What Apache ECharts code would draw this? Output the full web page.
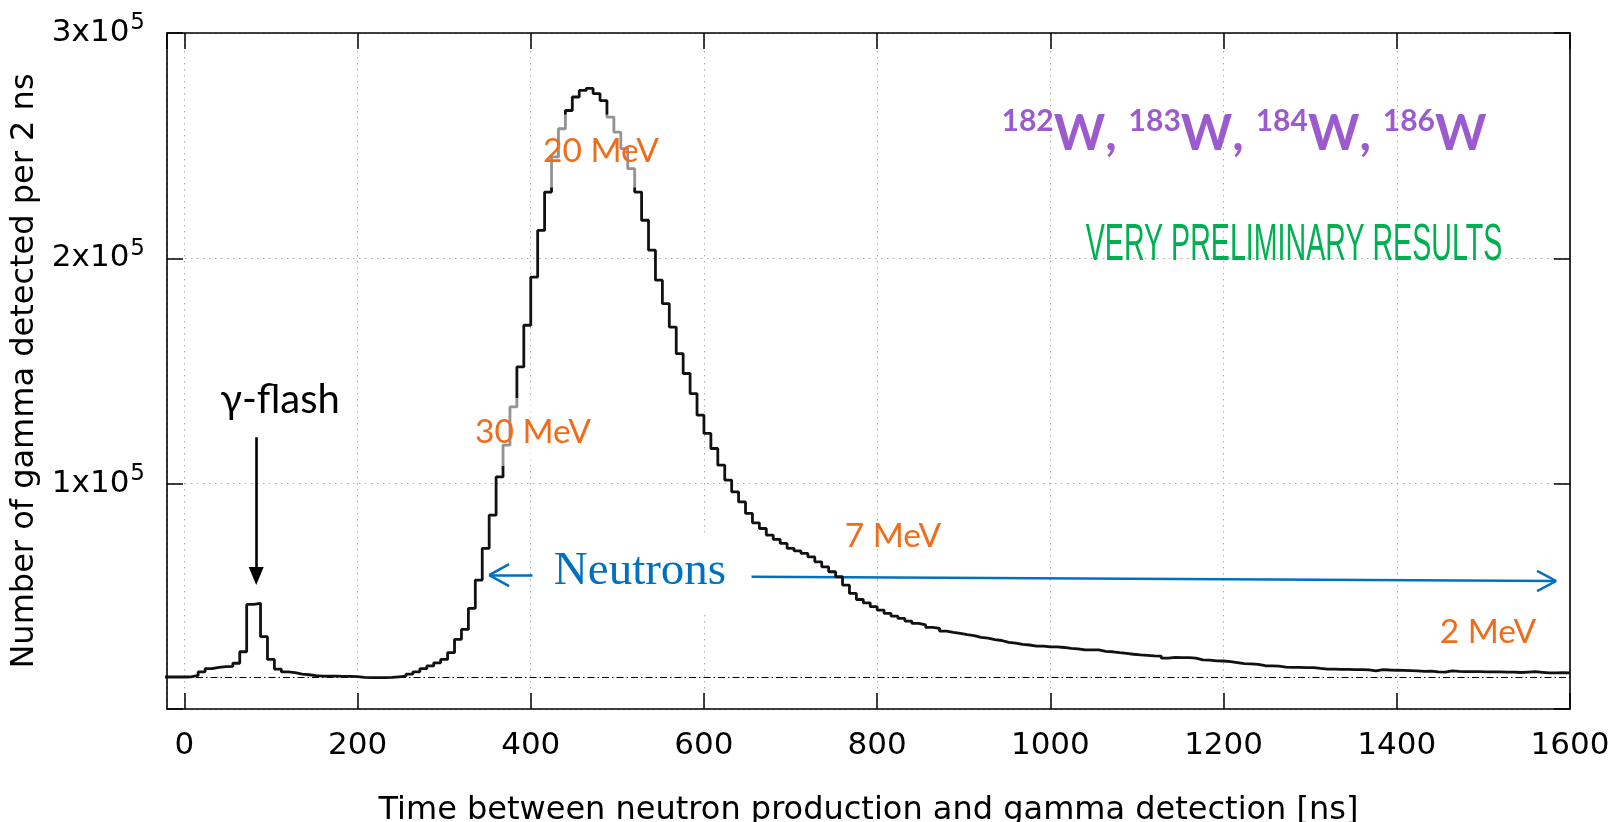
<!DOCTYPE html>
<html>
<head>
<meta charset="utf-8">
<script src="https://cdn.jsdelivr.net/npm/echarts@6/dist/echarts.min.js"></script>
<style>
  html, body { margin: 0; padding: 0; background: #ffffff; }
  #chart { width: 1613px; height: 822px; }
</style>
</head>
<body>
<div id="chart"></div>
<script>
// ---------------- DATA ----------------
// Histogram bins: 8 ns wide, first bin starts at -24 ns (values in thousands of counts)
const binStartNs = -24;
const binWidthNs = 8;
const countsK = [
  14.2, 14.2, 14.2, 14.3, 14.9, 16.5, 17.9, 18.5, 18.8, 18.9,      // -24 .. 48
  20.3, 25.4, 46.4, 46.9, 32.1, 22.0, 17.7, 16.5, 16.1, 15.5,      // 56 .. 128
  15.2, 14.8, 14.6, 14.6, 14.6, 14.5, 14.5, 14.4, 14.0, 13.9,      // 136 .. 208
  13.9, 13.9, 14.0, 14.3, 14.6, 15.5, 16.5, 17.9, 19.1, 20.5,      // 216 .. 288
  22.0, 25.0, 30.9, 35.3, 44.7, 57.2, 71.3, 86.0, 103.0, 117.1,    // 296 .. 368
  134.1, 151.8, 170.3, 191.7, 212.4, 229.4, 245.0, 257.5, 265.6, 271.6, // 376 .. 448
  274.5, 275.4, 273.1, 270.0, 262.7, 256.0, 248.7, 239.8, 229.4, 216.9, // 456 .. 528
  203.6, 190.3, 179.9, 169.5, 157.7, 148.9, 140.0, 130.4, 122.3, 115.6, // 536 .. 608
  108.2, 101.6, 96.4, 91.9, 86.8, 82.6, 80.1, 77.2, 75.3, 73.5,    // 616 .. 688
  71.3, 70.2, 69.1, 67.5, 65.3, 63.1, 60.9, 58.7, 55.0, 51.3,      // 696 .. 768
  48.6, 47.1, 45.4, 43.9, 42.4, 41.2, 40.2, 39.0, 38.0, 37.3,      // 776 .. 848
  36.2, 35.8, 34.6, 34.0, 33.6, 33.0, 32.6, 31.8, 31.5, 30.8,      // 856 .. 928
  30.4, 29.6, 29.2, 28.7, 28.4, 27.9, 27.9, 27.6, 27.6, 27.3,      // 936 .. 1008
  26.9, 26.7, 26.2, 26.2, 26.2, 25.6, 25.4, 25.0, 24.7, 24.3,      // 1016 .. 1088
  24.0, 23.8, 23.6, 23.5, 22.6, 22.9, 22.8, 22.8, 22.6, 21.8,      // 1096 .. 1168
  21.7, 21.4, 21.3, 21.0, 20.6, 20.1, 20.0, 19.8, 19.2, 19.1,      // 1176 .. 1248
  19.0, 18.6, 18.5, 18.5, 18.4, 18.4, 18.0, 17.7, 17.7, 17.6,      // 1256 .. 1328
  17.6, 17.5, 17.5, 17.4, 16.9, 17.5, 17.3, 17.2, 17.1, 17.0,      // 1336 .. 1408
  16.9, 16.7, 16.8, 16.5, 16.4, 16.9, 16.7, 16.6, 16.6, 16.6,      // 1416 .. 1488
  16.5, 16.5, 16.5, 16.4, 16.4, 16.2, 16.4, 16.6, 16.3, 16.0,      // 1496 .. 1568
  16.0, 16.1, 16.0                                                 // 1576 .. 1592
];
const baselineCount = 14300;
const xMin = -20, xMax = 1600, xStep = 200;
const yMin = 0, yMax = 300000, yStep = 100000;
const xTitle = 'Time between neutron production and gamma detection [ns]';
const yTitle = 'Number of gamma detected per 2 ns';
const energyLabels = ['30 MeV', '20 MeV', '7 MeV', '2 MeV'];
const isotopes = ['182', '183', '184', '186'];

// ---------------- BUILD ----------------
const histData = countsK.map((v, i) => [binStartNs + i * binWidthNs, v * 1000]);
histData.push([binStartNs + countsK.length * binWidthNs, countsK[countsK.length - 1] * 1000]);

const chart = echarts.init(document.getElementById('chart'), null, { renderer: 'canvas' });

const axisFont = 'DejaVu Sans';
const blue = '#0070C0';
const orange = '#EF6C1A';
const purple = '#9B5BCF';

function mirrorX(pos) {
  return {
    type: 'value', position: pos, min: xMin, max: xMax,
    minInterval: xStep, maxInterval: xStep,
    axisLine: { show: true, onZero: false, lineStyle: { color: '#000', width: 1.6 } },
    axisTick: { show: true, inside: true, length: 16, lineStyle: { color: '#000', width: 1.5 } },
    axisLabel: { show: false },
    splitLine: { show: false }
  };
}
function mirrorY(pos) {
  return {
    type: 'value', position: pos, min: yMin, max: yMax, interval: yStep,
    axisLine: { show: true, onZero: false, lineStyle: { color: '#000', width: 1.6 } },
    axisTick: { show: true, inside: true, length: 16, lineStyle: { color: '#000', width: 1.5 } },
    axisLabel: { show: false },
    splitLine: { show: false }
  };
}

const bottomX = mirrorX('bottom');
bottomX.axisLabel = {
  show: true, showMinLabel: false, margin: 21,
  fontFamily: axisFont, fontSize: 31, color: '#000',
  formatter: v => String(v)
};
bottomX.splitLine = { show: true, lineStyle: { color: '#aaa', width: 1, type: [1.5, 4.5] } };
bottomX.name = xTitle;
bottomX.nameLocation = 'middle';
bottomX.nameGap = 86;
bottomX.nameTextStyle = { fontFamily: axisFont, fontSize: 32, color: '#000' };

const leftY = mirrorY('left');
leftY.axisLabel = {
  show: true, margin: 22, color: '#000',
  formatter: v => v === 0 ? '' : '{a|' + (v / 1e5) + 'x10}{b|5}',
  rich: {
    a: { fontFamily: axisFont, fontSize: 31, color: '#000' },
    b: { fontFamily: axisFont, fontSize: 23, color: '#000', padding: [0, 0, 19, 1] }
  }
};
leftY.splitLine = { show: true, lineStyle: { color: '#aaa', width: 1, type: [1.5, 4.5] } };
leftY.name = yTitle;
leftY.nameLocation = 'middle';
leftY.nameGap = 121;
leftY.nameTextStyle = { fontFamily: axisFont, fontSize: 32, color: '#000' };

const option = {
  animation: false,
  backgroundColor: '#ffffff',
  grid: { left: 167, right: 43, top: 33, bottom: 113, outerBoundsMode: 'none', containLabel: false },
  xAxis: [bottomX, mirrorX('top')],
  yAxis: [leftY, mirrorY('right')],
  series: [
    {
      type: 'line', step: 'end', data: histData, xAxisIndex: 0, yAxisIndex: 0,
      symbol: 'none', clip: true, z: 5,
      lineStyle: { color: '#111', width: 2.8 },
      markLine: {
        silent: true, symbol: ['none', 'none'], label: { show: false },
        lineStyle: { color: '#000', width: 1.2, type: [7, 3, 1.5, 3] },
        data: [{ yAxis: baselineCount }]
      }
    },
    {
      // annotation arrows (in data coordinates)
      type: 'line', data: [], xAxisIndex: 0, yAxisIndex: 0, z: 6,
      markLine: {
        silent: true, label: { show: false }, symbol: ['none', 'none'],
        lineStyle: { color: blue, width: 2.5, type: 'solid' },
        data: [
          // gamma-flash arrow
          [ { coord: [83, 120600], lineStyle: { color: '#000', width: 2.6 } },
            { coord: [83, 59000], symbol: 'triangle', symbolSize: [15, 18] } ],
          // Neutrons left arrow
          [ { coord: [402, 59400] }, { coord: [352, 59400] } ],
          [ { coord: [352, 59400] }, { coord: [375, 64300] } ],
          [ { coord: [352, 59400] }, { coord: [375, 54500] } ],
          // Neutrons right arrow
          [ { coord: [655, 58700] }, { coord: [1584, 56800] } ],
          [ { coord: [1584, 56800] }, { coord: [1562, 61300] } ],
          [ { coord: [1584, 56800] }, { coord: [1562, 52300] } ]
        ]
      }
    }
  ],
  graphic: [
    { type: 'text', x: 280, y: 400, z: 100,
      style: { text: 'γ-flash', font: '40px Lato', fill: '#000', align: 'center', verticalAlign: 'middle' } },
    { type: 'text', x: 640, y: 572, z: 100,
      style: { text: 'Neutrons', font: '47px "Liberation Serif"', fill: blue, align: 'center', verticalAlign: 'middle',
               backgroundColor: '#ffffff', padding: [17, 13, 15, 13] } },
    { type: 'text', x: 533, y: 432, z: 100,
      style: { text: energyLabels[0], font: '33.5px Lato', fill: orange, align: 'center', verticalAlign: 'middle',
               backgroundColor: 'rgba(255,255,255,0.55)', padding: [19, 5, 15, 5] } },
    { type: 'text', x: 601, y: 151, z: 100,
      style: { text: energyLabels[1], font: '33.5px Lato', fill: orange, align: 'center', verticalAlign: 'middle',
               backgroundColor: 'rgba(255,255,255,0.55)', padding: [24, 5, 15, 5] } },
    { type: 'text', x: 893, y: 536, z: 100,
      style: { text: energyLabels[2], font: '33.5px Lato', fill: orange, align: 'center', verticalAlign: 'middle' } },
    { type: 'text', x: 1488, y: 632, z: 100,
      style: { text: energyLabels[3], font: '33.5px Lato', fill: orange, align: 'center', verticalAlign: 'middle' } },
    { type: 'text', x: 1244, y: 134, z: 100,
      style: {
        text: isotopes.map(n => '{s|' + n + '}{w|W}').join('{w|, }'),
        align: 'center', verticalAlign: 'middle', fill: purple,
        rich: {
          s: { fontFamily: 'Lato', fontWeight: 'bold', fontSize: 30, fill: purple, padding: [0, 0, 26, 0] },
          w: { fontFamily: 'Lato', fontWeight: 'bold', fontSize: 49, fill: purple }
        }
      } },
    { type: 'text', x: 1294, y: 246, z: 100, scaleX: 0.55,
      style: { text: 'VERY PRELIMINARY RESULTS', font: '52px "Liberation Sans"', fill: '#00B050',
               align: 'center', verticalAlign: 'middle' } }
  ]
};
chart.setOption(option);
</script>
</body>
</html>
